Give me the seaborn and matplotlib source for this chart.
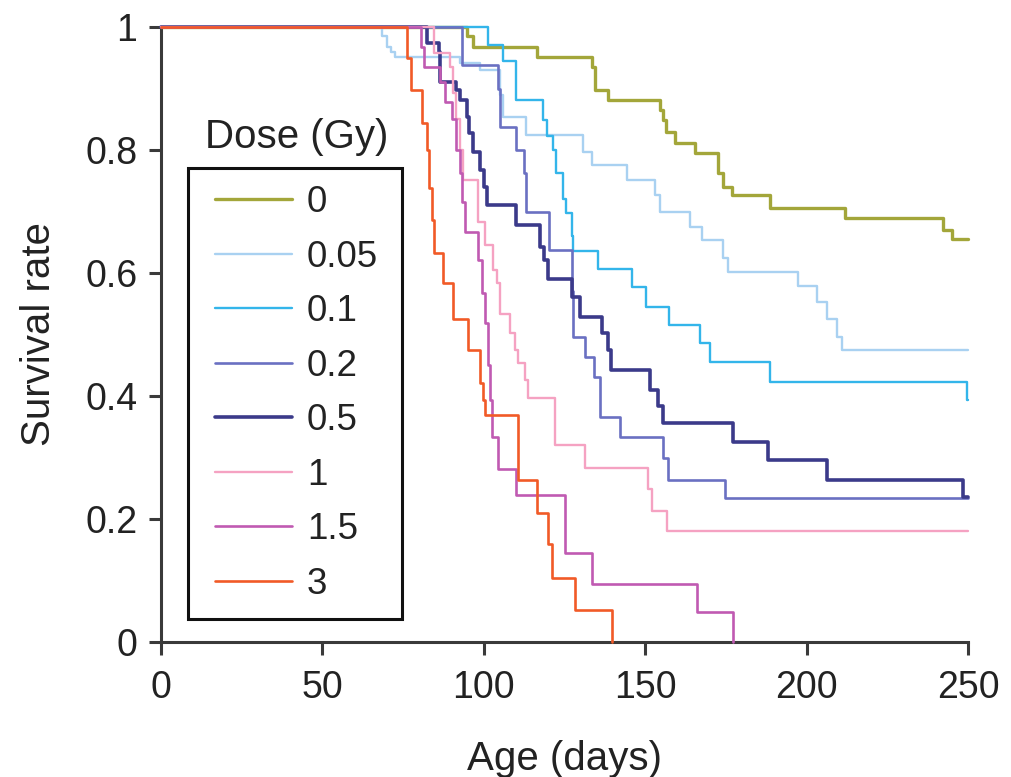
import numpy as np
import pandas as pd
import matplotlib
matplotlib.use("Agg")
import matplotlib.pyplot as plt
import seaborn as sns
from matplotlib.lines import Line2D
from matplotlib.patches import Rectangle

# ---------------- data ----------------
doses = ["0", "0.05", "0.1", "0.2", "0.5", "1", "1.5", "3"]

t_0 = [0, 94.7, 96.5, 116.4, 133.4, 134.5, 138.6, 154.6, 155.5, 156.5, 159.2, 165.4,
       172.6, 174.2, 176.8, 188.7, 211.9, 242.4, 244.9, 250]
s_0 = [1, 0.985, 0.968, 0.952, 0.935, 0.898, 0.881, 0.865, 0.849, 0.830, 0.811, 0.795,
       0.762, 0.740, 0.727, 0.705, 0.689, 0.670, 0.656, 0.656]

t_005 = [0, 68.4, 69.9, 71.4, 72.5, 92.6, 98.8, 105.0, 106.0, 113.2, 130.8, 133.5, 144.3,
         153.0, 154.5, 163.9, 167.5, 174.2, 175.5, 197.4, 203.1, 206.2, 209.3, 210.9, 250]
s_005 = [1, 0.985, 0.968, 0.960, 0.952, 0.941, 0.930, 0.890, 0.854, 0.824, 0.797, 0.776, 0.751,
         0.727, 0.700, 0.675, 0.654, 0.624, 0.602, 0.579, 0.553, 0.526, 0.496, 0.475, 0.475]

t_01 = [0, 101.4, 106.0, 110.1, 118.4, 119.5, 121.5, 122.5, 124.6, 125.5, 127.2, 127.7,
        135.5, 146.0, 150.2, 157.5, 167.0, 170.0, 188.7, 249.6, 250]
s_01 = [1, 0.971, 0.944, 0.881, 0.849, 0.822, 0.800, 0.763, 0.720, 0.697, 0.660, 0.635,
        0.607, 0.577, 0.545, 0.515, 0.486, 0.456, 0.423, 0.393, 0.393]

t_02 = [0, 93.1, 104.5, 105.0, 110.1, 112.3, 113.0, 120.2, 127.2, 127.7, 131.3, 134.0,
        136.0, 142.2, 155.6, 157.0, 174.7, 250]
s_02 = [1, 0.938, 0.900, 0.838, 0.800, 0.762, 0.700, 0.637, 0.570, 0.496, 0.464, 0.431,
        0.366, 0.334, 0.299, 0.263, 0.234, 0.234]

t_05 = [0, 82.3, 86.0, 86.5, 91.5, 92.5, 94.7, 95.5, 96.5, 98.8, 100.0, 101.0, 110.1,
        117.4, 118.5, 120.0, 127.2, 129.8, 136.5, 138.5, 139.5, 151.5, 154.0, 155.5,
        177.3, 188.1, 206.2, 248.5, 250]
s_05 = [1, 0.974, 0.960, 0.911, 0.898, 0.881, 0.854, 0.827, 0.797, 0.767, 0.740, 0.711, 0.678,
        0.643, 0.621, 0.591, 0.561, 0.529, 0.502, 0.475, 0.442, 0.410, 0.383, 0.356,
        0.326, 0.296, 0.263, 0.236, 0.236]

t_1 = [0, 84.5, 89.5, 90.5, 91.5, 92.5, 93.6, 98.3, 100.4, 102.9, 104.0, 105.0, 108.1,
       109.7, 110.7, 112.8, 113.6, 122.1, 131.3, 151.0, 152.0, 156.7, 250]
s_1 = [1, 0.957, 0.935, 0.892, 0.850, 0.800, 0.751, 0.683, 0.646, 0.605, 0.583, 0.534, 0.502,
       0.475, 0.453, 0.426, 0.396, 0.320, 0.283, 0.248, 0.213, 0.181, 0.181]

t_15 = [0, 80.5, 81.5, 86.5, 88.0, 90.0, 91.5, 92.6, 93.2, 94.2, 98.3, 99.5, 100.5, 101.2,
        101.9, 102.5, 104.5, 110.1, 125.2, 133.4, 165.9, 177.3]
s_15 = [1, 0.967, 0.935, 0.911, 0.878, 0.850, 0.800, 0.762, 0.716, 0.667, 0.621, 0.567, 0.518,
        0.450, 0.393, 0.334, 0.282, 0.239, 0.144, 0.095, 0.049, 0.0]

t_3 = [0, 76.3, 77.5, 81.0, 82.5, 83.0, 83.8, 84.5, 87.4, 90.5, 95.2, 98.8, 99.8, 100.3,
       110.7, 116.4, 120.0, 121.0, 128.3, 139.6]
s_3 = [1, 0.950, 0.898, 0.844, 0.800, 0.738, 0.686, 0.632, 0.583, 0.526, 0.475, 0.421, 0.393,
       0.369, 0.263, 0.209, 0.160, 0.104, 0.052, 0.0]

x_ticks = [0, 50, 100, 150, 200, 250]
y_ticks = [0, 0.2, 0.4, 0.6, 0.8, 1]
y_tick_labels = ["0", "0.2", "0.4", "0.6", "0.8", "1"]

# ---------------- styling ----------------
colors = ["#a3a63a", "#a9d1f1", "#33b5ea", "#6a70c2", "#3b3a8a", "#f5a2c2", "#c05ab2", "#f15a27"]
widths = [2.4, 1.7, 1.7, 1.9, 2.6, 1.7, 1.9, 1.9]

sns.set_style("ticks")
plt.rcParams["font.family"] = ["Liberation Sans", "DejaVu Sans"]

times = [t_0, t_005, t_01, t_02, t_05, t_1, t_15, t_3]
survs = [s_0, s_005, s_01, s_02, s_05, s_1, s_15, s_3]
frames = []
for d, t, s in zip(doses, times, survs):
    frames.append(pd.DataFrame({"dose": d, "day": t, "surv": s}))
df = pd.concat(frames, ignore_index=True)

fig = plt.figure(figsize=(10.12, 7.77), dpi=100)
W, H = 1012, 777
ax = fig.add_axes([161 / W, 1 - 642 / H, 807 / W, 615 / H])

for d, c, lw in zip(doses, colors, widths):
    sub = df[df["dose"] == d]
    sns.lineplot(data=sub, x="day", y="surv", color=c, linewidth=lw,
                 drawstyle="steps-post", estimator=None, sort=False, ax=ax,
                 clip_on=False, zorder=3)

ax.set_xlim(0, 250)
ax.set_ylim(0, 1)
ax.set_xticks(x_ticks)
ax.set_xticklabels([str(v) for v in x_ticks])
ax.set_yticks(y_ticks)
ax.set_yticklabels(y_tick_labels)
sns.despine(ax=ax)
for sp in ["left", "bottom"]:
    ax.spines[sp].set_color("#3a3a3a")
    ax.spines[sp].set_linewidth(2.2)
ax.tick_params(axis="both", direction="out", length=9, width=2.2, color="#3a3a3a",
               labelsize=27, labelcolor="#222222")
ax.tick_params(axis="x", pad=11)
ax.tick_params(axis="y", pad=8)

ax.set_xlabel("Age (days)", fontsize=29, color="#222222")
ax.set_ylabel("Survival rate", fontsize=29, color="#222222")
ax.xaxis.set_label_coords(0.5, -0.16)
ax.yaxis.set_label_coords(-0.128, 0.5)

# legend
handles = [Line2D([0], [0], color=c, lw=lw) for c, lw in zip(colors, widths)]
leg = ax.legend(handles, doses, loc="upper left", bbox_to_anchor=(215 / W, 1 - 185 / H),
                bbox_transform=fig.transFigure, frameon=False, fontsize=26.5,
                handlelength=2.1, handletextpad=0.4, labelspacing=0.53,
                borderpad=0, borderaxespad=0)
for txt in leg.get_texts():
    txt.set_color("#222222")
fig.patches.append(Rectangle((188 / W, 1 - 619 / H), 214 / W, 451 / H,
                             transform=fig.transFigure, fill=False,
                             edgecolor="#111111", linewidth=2.2, zorder=5))
fig.text(297 / W, 1 - 137 / H, "Dose (Gy)", ha="center", va="center",
         fontsize=29, color="#222222")

fig.savefig("out.png", dpi=100, facecolor="white")
